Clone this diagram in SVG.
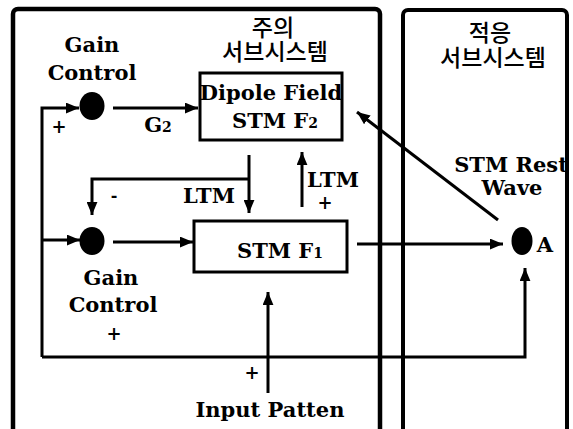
<svg xmlns="http://www.w3.org/2000/svg" width="573" height="429" viewBox="0 0 573 429">
<style>
.t{font-family:"DejaVu Serif","Liberation Serif",serif;font-weight:bold;font-size:21px;fill:#000;text-anchor:middle}
.k{font-family:"Noto Sans CJK KR","Noto Sans",sans-serif;font-size:23px;font-weight:500;fill:#000;text-anchor:middle}
.s{font-size:14px}
.c{fill:none;stroke:#000;stroke-width:3}
.panel{fill:none;stroke:#000;stroke-width:4.5}
.dot{fill:#000}
.box{fill:#fff;stroke:#000;stroke-width:3}
</style>
<defs>
<marker id="ah" viewBox="0 0 12 10" refX="12" refY="5" markerWidth="13" markerHeight="11" markerUnits="userSpaceOnUse" orient="auto">
<path d="M0,0 L12,5 L0,10 z" fill="#000"/>
</marker>
</defs>
<rect fill="#fff" x="0" y="0" width="573" height="429"/>
<g id="attention-panel">
<rect class="panel" x="13" y="9" width="367" height="440" rx="5"/>
<text class="k" x="273" y="36">주의<tspan x="275" dy="24">서브시스템</tspan></text>
</g>
<g id="orienting-panel">
<rect class="panel" x="403" y="10" width="164" height="440" rx="5" style="stroke-width:4"/>
<text class="k" x="490" y="41">적응<tspan x="493" dy="25">서브시스템</tspan></text>
</g>
<g id="connectors">
<path class="c" d="M42,357 L42,108 L79,108" marker-end="url(#ah)"/>
<path class="c" d="M42,240 L80,240" marker-end="url(#ah)"/>
<path class="c" d="M42,357 L525,357 L525,268" marker-end="url(#ah)"/>
<path class="c" d="M113,108 L198,108" marker-end="url(#ah)"/>
<path class="c" d="M113,242 L193,242" marker-end="url(#ah)"/>
<path class="c" d="M249,155 L249,213" marker-end="url(#ah)"/>
<path class="c" d="M249,179 L92,179 L92,215" marker-end="url(#ah)"/>
<path class="c" d="M302,207 L302,152" marker-end="url(#ah)"/>
<path class="c" d="M357,244 L503,244" marker-end="url(#ah)"/>
<path class="c" d="M498,220 L357,112" marker-end="url(#ah)"/>
<path class="c" d="M268,393 L268,292" marker-end="url(#ah)"/>
<text class="t" x="59" y="133" style="font-size:18px">+</text>
<text class="t" x="158" y="132">G<tspan class="s">2</tspan></text>
<text class="t" x="114" y="201" style="font-size:16px">-</text>
<text class="t" x="209" y="203">LTM</text>
<text class="t" x="333" y="187">LTM</text>
<text class="t" x="325" y="209" style="font-size:18px">+</text>
<text class="t" x="252" y="379" style="font-size:18px">+</text>
</g>
<g id="gain-control-top">
<text class="t" x="92" y="52">Gain</text>
<text class="t" x="92" y="80">Control</text>
<ellipse class="dot" cx="92" cy="106" rx="12.5" ry="14"/>
</g>
<g id="dipole-field">
<rect class="box" x="200" y="73" width="142" height="67"/>
<text class="t" x="271" y="100">Dipole Field</text>
<text class="t" x="275" y="128">STM F<tspan class="s">2</tspan></text>
</g>
<g id="gain-control-mid">
<ellipse class="dot" cx="92" cy="241" rx="12.5" ry="14"/>
<text class="t" x="111" y="285">Gain</text>
<text class="t" x="113" y="312">Control</text>
<text class="t" x="114" y="340" style="font-size:18px">+</text>
</g>
<g id="stm-f1">
<rect class="box" x="194" y="221" width="153" height="51"/>
<text class="t" x="280" y="258">STM F<tspan class="s">1</tspan></text>
</g>
<g id="node-a">
<ellipse class="dot" cx="522" cy="241" rx="10.5" ry="14"/>
<text class="t" x="545" y="252">A</text>
<text class="t" x="511" y="172">STM Rest</text>
<text class="t" x="512" y="195">Wave</text>
</g>
<g id="input-pattern">
<text class="t" x="270" y="417">Input Patten</text>
</g>
</svg>
